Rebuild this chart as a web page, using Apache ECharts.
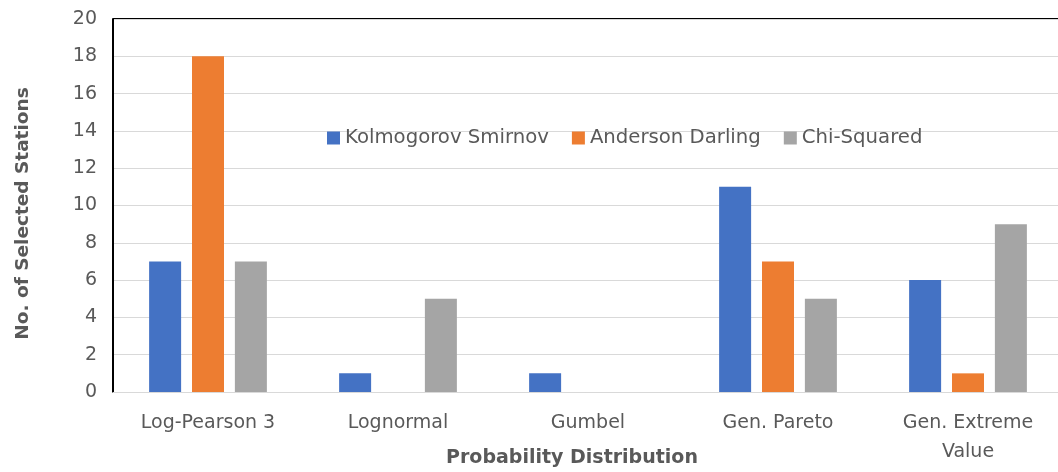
<!DOCTYPE html>
<html><head><meta charset="utf-8">
<script src="https://cdn.jsdelivr.net/npm/echarts@6/dist/echarts.min.js"></script>
<style>html,body{margin:0;padding:0;background:#fff}#c{width:1058px;height:472px}</style>
</head><body><div id="c"></div>
<script>
const categories = ['Log-Pearson 3', 'Lognormal', 'Gumbel', 'Gen. Pareto', 'Gen. Extreme\nValue'];
const seriesNames = ['Kolmogorov Smirnov', 'Anderson Darling', 'Chi-Squared'];
const ksValues = [7, 1, 1, 11, 6];
const adValues = [18, 0, 0, 7, 1];
const csValues = [7, 5, 0, 5, 9];
const colors = ['#4472C4', '#ED7D31', '#A5A5A5'];
const font = 'DejaVu Sans';
const chart = echarts.init(document.getElementById('c'));
const data = [ksValues, adValues, csValues];
chart.setOption({
  animation: false,
  textStyle: {fontFamily: font},
  grid: {left: 113, right: -5, top: 19, bottom: 80, outerBoundsMode: 'none', containLabel: false},
  legend: {
    data: seriesNames, left: 322, top: 123, itemWidth: 13, itemHeight: 13, itemGap: 23,
    icon: 'rect', textStyle: {fontFamily: font, fontSize: 19.7, color: '#595959'}
  },
  xAxis: {
    type: 'category', data: categories,
    name: 'Probability Distribution', nameLocation: 'middle', nameGap: 57, nameMoveOverlap: false,
    nameTextStyle: {fontFamily: font, fontSize: 19, fontWeight: 'bold', color: '#595959', padding: [0, 32, 0, 0]},
    axisTick: {show: false},
    axisLine: {show: true, lineStyle: {color: '#d9d9d9', width: 1}},
    axisLabel: {fontFamily: font, fontSize: 19, color: '#595959', margin: 17, lineHeight: 29}
  },
  yAxis: {
    type: 'value', min: 0, max: 20, interval: 2,
    name: 'No. of Selected Stations', nameLocation: 'middle', nameGap: 80, nameMoveOverlap: false,
    nameTextStyle: {fontFamily: font, fontSize: 18.5, fontWeight: 'bold', color: '#595959', padding: [0, 16, 0, 0]},
    axisLine: {show: true, lineStyle: {color: '#000', width: 2}},
    axisLabel: {fontFamily: font, fontSize: 19, color: '#595959', margin: 16},
    splitLine: {lineStyle: {color: '#d9d9d9', width: 1}}
  },
  series: data.map((d, i) => ({
    name: seriesNames[i], type: 'bar', data: d,
    barWidth: 32, barGap: '34%',
    itemStyle: {color: colors[i]}
  })),
  graphic: [{type: 'line', shape: {x1: 113, y1: 19, x2: 1058, y2: 19}, style: {stroke: '#000', lineWidth: 2}}]
});
</script></body></html>
